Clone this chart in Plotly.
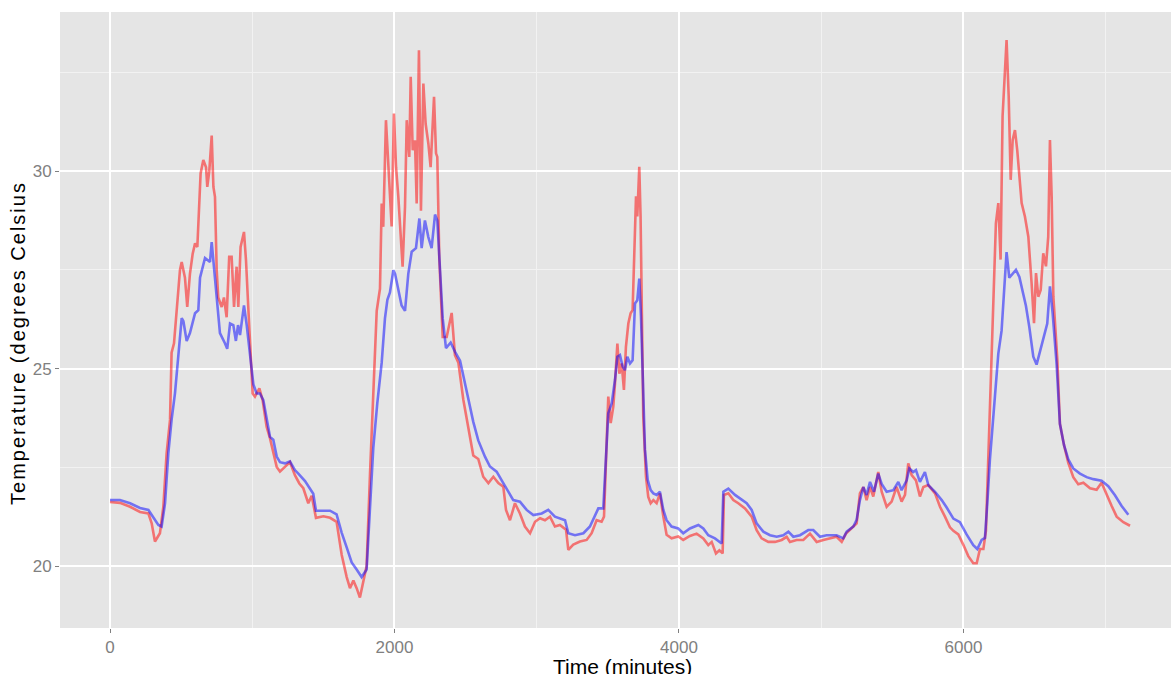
import plotly.graph_objects as go

# ---- data (time in minutes, temperature in deg C) ----
red_time = [0, 70, 141, 211, 270, 293, 316, 328, 351, 375, 398, 422, 433, 450, 473, 492, 504, 527, 543, 562,
            581, 598, 614, 628, 637, 656, 675, 684, 698, 715, 727, 738, 750, 761, 785, 801, 820, 838, 855, 872,
            890, 902, 918, 942, 956, 972, 984, 1003, 1019, 1050, 1073, 1101, 1125, 1148, 1172, 1195, 1230, 1265,
            1300, 1331, 1359, 1394, 1418, 1448, 1500, 1547, 1593, 1629, 1664, 1687, 1711, 1734, 1757, 1781, 1804,
            1828, 1851, 1875, 1886, 1898, 1910, 1921, 1940, 1957, 1973, 1980, 1996, 2011, 2027, 2043, 2057, 2074,
            2086, 2104, 2114, 2128, 2144, 2156, 2172, 2186, 2203, 2219, 2238, 2254, 2278, 2292, 2301, 2315, 2339,
            2367, 2402, 2425, 2449, 2484, 2519, 2554, 2589, 2624, 2660, 2695, 2730, 2765, 2784, 2812, 2847, 2882,
            2917, 2953, 2988, 3023, 3058, 3093, 3128, 3163, 3206, 3222, 3257, 3304, 3351, 3386, 3421, 3456, 3473,
            3487, 3503, 3520, 3538, 3550, 3567, 3581, 3597, 3613, 3627, 3644, 3660, 3674, 3684, 3698, 3707, 3714,
            3721, 3730, 3738, 3749, 3768, 3784, 3801, 3820, 3843, 3866, 3890, 3913, 3948, 3995, 4030, 4077, 4124,
            4171, 4206, 4230, 4260, 4284, 4307, 4316, 4347, 4382, 4417, 4464, 4511, 4546, 4581, 4628, 4675, 4722,
            4757, 4780, 4827, 4874, 4921, 4968, 5015, 5073, 5108, 5144, 5174, 5226, 5249, 5272, 5296, 5319, 5343,
            5366, 5401, 5425, 5460, 5495, 5530, 5565, 5589, 5612, 5636, 5666, 5694, 5718, 5753, 5800, 5835, 5870,
            5905, 5929, 5964, 6000, 6034, 6069, 6093, 6116, 6140, 6158, 6175, 6191, 6198, 6210, 6228, 6245, 6261,
            6275, 6292, 6303, 6318, 6332, 6346, 6362, 6378, 6397, 6409, 6432, 6456, 6479, 6496, 6510, 6526, 6543,
            6561, 6580, 6596, 6608, 6620, 6632, 6660, 6678, 6707, 6737, 6772, 6807, 6843, 6890, 6936, 6971, 7007,
            7042, 7077, 7124, 7171]
red_temp = [21.62, 21.6, 21.5, 21.37, 21.33, 21.08, 20.62, 20.7, 20.83, 21.5, 22.85, 23.7, 25.4, 25.64, 26.73,
            27.5, 27.7, 27.3, 26.56, 27.4, 27.9, 28.17, 28.08, 29.18, 29.94, 30.28, 30.1, 29.6, 30.0, 30.9, 29.6,
            29.35, 27.5, 26.8, 26.56, 26.8, 26.3, 27.83, 27.83, 26.56, 27.58, 26.56, 28.08, 28.46, 27.75, 26.56,
            25.55, 24.37, 24.29, 24.5, 24.2, 23.53, 23.23, 22.85, 22.51, 22.39, 22.5, 22.63, 22.3, 22.09, 21.97,
            21.59, 21.78, 21.22, 21.26, 21.22, 21.12, 20.28, 19.72, 19.44, 19.63, 19.44, 19.2, 19.63, 20.0, 22.34,
            24.4, 26.46, 26.73, 27.02, 29.18, 28.59, 31.29, 30.1, 29.1, 28.6, 31.46, 30.1, 29.35, 28.25, 27.58,
            29.1, 31.29, 30.36, 32.39, 30.53, 30.78, 29.18, 33.06, 29.0, 32.22, 31.2, 30.7, 30.1, 31.88, 30.45,
            30.36, 27.8, 25.8, 25.8, 26.41, 25.34, 25.15, 24.21, 23.46, 22.8, 22.71, 22.26, 22.1, 22.26, 22.1,
            22.01, 21.42, 21.16, 21.59, 21.33, 21.0, 20.83, 21.12, 21.21, 21.16, 21.25, 21.0, 21.04, 20.92, 20.41,
            20.54, 20.62, 20.66, 20.83, 21.16, 21.12, 21.25, 22.94, 24.29, 23.62, 24.03, 24.62, 25.63, 24.87,
            25.13, 24.46, 25.55, 26.14, 26.4, 26.48, 28.0, 29.36, 28.85, 29.53, 30.11, 28.85, 26.31, 23.78, 22.26,
            21.75, 21.59, 21.67, 21.59, 21.84, 21.25, 20.79, 20.7, 20.75, 20.66, 20.76, 20.82, 20.7, 20.53, 20.61,
            20.32, 20.4, 20.32, 21.8, 21.84, 21.67, 21.59, 21.46, 21.25, 20.91, 20.7, 20.61, 20.61, 20.66, 20.74,
            20.61, 20.66, 20.66, 20.82, 20.61, 20.66, 20.7, 20.74, 20.61, 20.82, 21.0, 21.08, 21.84, 22.0, 21.67,
            22.0, 21.76, 22.38, 21.88, 21.5, 21.63, 22.0, 21.63, 21.8, 22.6, 22.3, 22.17, 21.76, 22.0, 22.05,
            21.84, 21.5, 21.25, 20.98, 20.89, 20.8, 20.53, 20.25, 20.07, 20.07, 20.43, 20.43, 20.89, 22.7, 24.51,
            25.22, 26.82, 28.68, 29.19, 27.76, 31.39, 32.73, 33.32, 31.89, 29.78, 30.79, 31.04, 30.53, 29.78,
            29.19, 28.85, 28.34, 27.16, 26.15, 27.42, 26.82, 26.99, 27.92, 27.59, 28.34, 30.79, 29.36, 26.82,
            25.22, 23.6, 23.06, 22.61, 22.25, 22.07, 22.11, 21.97, 21.93, 22.11, 21.79, 21.52, 21.25, 21.11, 21.02]

blue_time = [0, 70, 141, 211, 270, 316, 340, 363, 387, 410, 433, 457, 480, 504, 516, 539, 562, 598, 621, 633,
             668, 684, 703, 715, 727, 750, 773, 808, 824, 844, 867, 885, 900, 914, 942, 961, 984, 1008, 1031, 1054,
             1078, 1101, 1125, 1148, 1172, 1195, 1230, 1265, 1300, 1324, 1371, 1429, 1448, 1488, 1547, 1593, 1629,
             1664, 1699, 1734, 1769, 1804, 1828, 1851, 1879, 1910, 1933, 1950, 1968, 1992, 2004, 2027, 2050, 2074,
             2097, 2121, 2151, 2175, 2191, 2214, 2238, 2261, 2285, 2301, 2320, 2339, 2362, 2395, 2425, 2461, 2484,
             2519, 2554, 2589, 2636, 2671, 2718, 2765, 2835, 2882, 2929, 2976, 3035, 3081, 3128, 3199, 3222, 3269,
             3328, 3374, 3433, 3468, 3487, 3503, 3527, 3550, 3567, 3585, 3604, 3620, 3637, 3656, 3674, 3691, 3707,
             3721, 3733, 3745, 3761, 3780, 3801, 3820, 3843, 3866, 3890, 3913, 3948, 3995, 4030, 4077, 4136, 4171,
             4206, 4253, 4300, 4312, 4347, 4394, 4429, 4476, 4511, 4546, 4593, 4640, 4687, 4733, 4769, 4804, 4851,
             4909, 4944, 4991, 5038, 5108, 5155, 5179, 5226, 5249, 5272, 5296, 5319, 5343, 5371, 5401, 5425, 5460,
             5507, 5542, 5565, 5601, 5619, 5647, 5666, 5694, 5729, 5753, 5800, 5847, 5882, 5929, 5975, 6022, 6069,
             6097, 6128, 6151, 6168, 6186, 6210, 6233, 6245, 6268, 6292, 6303, 6322, 6346, 6369, 6393, 6416, 6439,
             6463, 6491, 6514, 6538, 6566, 6589, 6608, 6627, 6655, 6678, 6707, 6737, 6772, 6819, 6866, 6913, 6971,
             7018, 7065, 7112, 7159]
blue_temp = [21.67, 21.67, 21.59, 21.47, 21.42, 21.16, 21.04, 21.0, 21.59, 22.85, 23.7, 24.38, 25.39, 26.28,
             26.2, 25.7, 25.9, 26.4, 26.48, 27.3, 27.8, 27.75, 27.7, 28.2, 27.75, 26.7, 25.9, 25.64, 25.5, 26.14,
             26.1, 25.7, 26.1, 25.85, 26.6, 26.1, 25.4, 24.6, 24.37, 24.37, 24.2, 23.7, 23.27, 23.2, 22.77, 22.63,
             22.6, 22.65, 22.43, 22.34, 22.15, 21.83, 21.4, 21.4, 21.4, 21.31, 20.84, 20.47, 20.09, 19.91, 19.72,
             19.91, 21.4, 22.99, 24.12, 25.15, 26.27, 26.74, 26.93, 27.49, 27.4, 27.0, 26.6, 26.46, 27.4, 27.96,
             28.05, 28.8, 28.05, 28.75, 28.33, 28.05, 28.9, 28.75, 27.49, 26.27, 25.52, 25.66, 25.43, 25.2, 24.82,
             24.21, 23.65, 23.18, 22.77, 22.52, 22.39, 22.1, 21.67, 21.63, 21.42, 21.29, 21.33, 21.42, 21.25, 21.16,
             20.83, 20.78, 20.83, 21.0, 21.46, 21.46, 22.94, 23.87, 24.12, 24.71, 25.3, 25.34, 25.05, 24.96, 25.3,
             25.13, 25.21, 26.65, 26.73, 27.28, 26.31, 24.62, 22.94, 22.18, 21.92, 21.84, 21.8, 21.88, 21.42, 21.16,
             21.0, 20.95, 20.83, 20.95, 21.04, 20.95, 20.78, 20.7, 20.57, 21.88, 21.96, 21.8, 21.71, 21.59, 21.42,
             21.08, 20.87, 20.78, 20.74, 20.78, 20.87, 20.74, 20.78, 20.91, 20.91, 20.74, 20.78, 20.78, 20.7, 20.87,
             21.0, 21.17, 21.67, 22.0, 21.8, 22.13, 21.88, 22.34, 22.08, 21.88, 21.92, 22.13, 21.92, 22.17, 22.47,
             22.38, 22.43, 22.13, 22.38, 22.05, 21.88, 21.67, 21.48, 21.2, 21.11, 20.8, 20.53, 20.43, 20.66, 20.71,
             21.61, 22.7, 23.79, 24.87, 25.38, 25.96, 27.42, 27.95, 27.3, 27.4, 27.5, 27.32, 26.96, 26.59, 26.05,
             25.3, 25.1, 25.42, 25.78, 26.14, 27.08, 26.4, 25.1, 23.6, 23.06, 22.7, 22.47, 22.34, 22.25, 22.2,
             22.16, 22.02, 21.79, 21.52, 21.3]

x_ticks = [0, 2000, 4000, 6000]
y_ticks = [20, 25, 30]
x_title = "Time (minutes)"
y_title = "Temperature (degrees Celsius"

fig = go.Figure()
fig.add_trace(go.Scatter(x=red_time, y=red_temp, mode="lines",
                         line=dict(color="rgba(255,0,0,0.5)", width=2.6), showlegend=False))
fig.add_trace(go.Scatter(x=blue_time, y=blue_temp, mode="lines",
                         line=dict(color="rgba(0,0,255,0.5)", width=2.6), showlegend=False))

tick_font = dict(family="Liberation Sans, Arial, sans-serif", size=17, color="#808080")
fig.update_layout(
    width=1171, height=674,
    margin=dict(l=60, r=0, t=12, b=46),
    paper_bgcolor="white",
    plot_bgcolor="#E5E5E5",
    font=dict(family="Liberation Sans, Arial, sans-serif"),
    xaxis=dict(range=[-351.5, 7459], tickvals=x_ticks, ticktext=[str(v) for v in x_ticks],
               showgrid=True, gridcolor="white", gridwidth=1.6, zeroline=False, showline=False,
               ticks="outside", ticklen=4, tickcolor="#808080", tickwidth=1, tickfont=tick_font,
               minor=dict(dtick=1000, tick0=0, showgrid=True, gridcolor="#F2F2F2", gridwidth=0.8, ticks="")),
    yaxis=dict(range=[18.43, 34.03], tickvals=y_ticks, ticktext=[str(v) for v in y_ticks],
               showgrid=True, gridcolor="white", gridwidth=1.6, zeroline=False, showline=False,
               ticks="outside", ticklen=4, tickcolor="#808080", tickwidth=1, tickfont=tick_font,
               minor=dict(dtick=2.5, tick0=0, showgrid=True, gridcolor="#F2F2F2", gridwidth=0.8, ticks="")),
    annotations=[
        dict(text=x_title, xref="paper", yref="paper", x=0.506, y=-0.0633, xanchor="center", yanchor="middle",
             showarrow=False, font=dict(size=21, color="black")),
        dict(text='<span style="letter-spacing:2px">' + y_title + '</span>', xref="paper", yref="paper",
             x=-0.0378, y=0.4627, xanchor="center", yanchor="middle", textangle=-90,
             showarrow=False, font=dict(size=20, color="black")),
    ],
)

fig.write_html("out.html")
